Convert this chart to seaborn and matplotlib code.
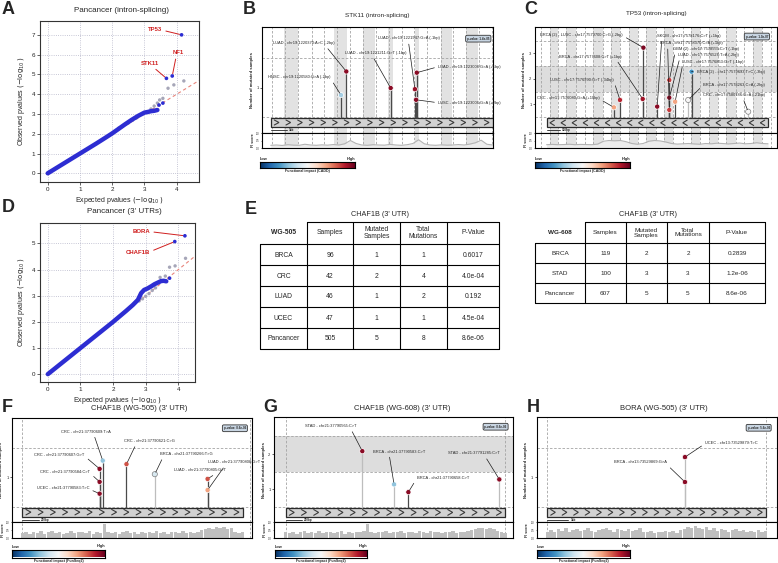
import numpy as np
import pandas as pd
import matplotlib
matplotlib.use("Agg")
import matplotlib.pyplot as plt
import seaborn as sns
from matplotlib.patches import Rectangle
from matplotlib.lines import Line2D

sns.set_theme(style="white")
plt.rcParams["font.family"] = ["Liberation Sans", "DejaVu Sans"]

# ======================= DATA =======================
# A: QQ plot, Pancancer (intron-splicing)
a_band_exp = [0.0, 0.3, 0.6, 0.9, 1.2, 1.5, 1.8, 2.0, 2.2, 2.4, 2.6, 2.8, 3.0, 3.1, 3.2, 3.3, 3.4]
a_band_obs = [0.0, 0.3, 0.6, 0.9, 1.2, 1.5, 1.81, 2.02, 2.25, 2.48, 2.7, 2.9, 3.07, 3.1, 3.14, 3.16, 3.2]
a_null_exp = [2.2, 2.35, 2.5, 2.62, 2.75, 3.2, 3.3, 3.4, 3.47, 3.57, 3.73, 3.91, 4.22]
a_null_obs = [2.28, 2.42, 2.55, 2.68, 2.8, 3.25, 3.4, 3.55, 3.71, 3.79, 4.3, 4.47, 4.67]
a_top_exp = [3.45, 3.57, 3.68, 3.86, 4.15]
a_top_obs = [3.45, 3.55, 4.8, 4.92, 7.0]
a_top_genes = ["", "", "STK11", "NF1", "TP53"]

# D: QQ plot, Pancancer (3' UTRs)
d_band_exp = [0.0, 0.4, 0.8, 1.2, 1.6, 2.0, 2.4, 2.6, 2.76, 2.86, 2.95, 3.06, 3.17, 3.27, 3.37, 3.47, 3.55, 3.63]
d_band_obs = [0.0, 0.4, 0.8, 1.2, 1.6, 2.0, 2.42, 2.64, 2.84, 3.1, 3.22, 3.28, 3.36, 3.44, 3.5, 3.56, 3.57, 3.55]
d_null_exp = [2.8, 2.9, 3.0, 3.1, 3.2, 3.3, 3.44, 3.6, 3.73, 3.9, 4.22]
d_null_obs = [2.8, 2.88, 2.98, 3.08, 3.2, 3.3, 3.7, 3.75, 4.09, 4.14, 4.43]
d_top_exp = [3.73, 3.89, 4.2]
d_top_obs = [3.67, 5.07, 5.29]
d_top_genes = ["", "CHAF1B", "BORA"]

# B: STK11 (intron-splicing)
b_bounds = [4.5, 10, 15.7, 21.5, 27, 32.6, 38.1, 43.8, 49.3, 54.8, 60.5, 66, 71.6, 77.4, 82.8, 88.3, 94, 99.6]
b_exons = [(9.7, 15.7), (31.3, 36.7), (43.9, 48.9), (54.7, 56.8), (66.2, 68), (77.4, 82.4), (88.3, 93.6)]
b_pos = [34.2, 36.5, 55.7, 66.2, 67.0, 66.7]
b_n = [0.88, 1.28, 1.0, 0.98, 1.26, 0.80]
b_impact = [0.33, 0.95, 0.95, 0.93, 0.95, 0.95]
b_labels = ["HNSC - chr19:1220580:G>A (-2bp)", "LUAD - chr19:1220370:A>C (-2bp)",
            "LUAD - chr19:1221211:G>T (-1bp)", "LUAD - chr19:1221947:G>A (-1bp)",
            "LUAD - chr19:1223008:G>A (+1bp)", "LUSC - chr19:1223006:G>A (+2bp)"]
b_pvalue = "p-value: 1.4e-05"
b_fi = [0.18, 0.2, 0.17, 0.22, 0.19, 0.18, 0.25, 0.2, 0.18, 0.21, 0.19, 0.23, 0.2, 0.28, 0.5, 0.3, 0.2, 0.18,
        0.22, 0.2, 0.19, 0.24, 0.2, 0.18, 0.22, 0.3, 0.55, 0.28, 0.2, 0.18, 0.21, 0.19, 0.2, 0.23, 0.2, 0.26,
        0.35, 0.52, 0.25, 0.2]

# C: TP53 (intron-splicing)
c_bounds = [2.5, 6, 9.5, 13, 17, 20.5, 24, 28, 31.5, 35, 39, 42.5, 46, 50, 53.5, 57, 61, 64.5, 68, 72,
            75.5, 79, 83, 86.5, 90, 94, 97.5]
c_exons = [(6, 9.5), (13, 17), (24, 28), (31.5, 35), (39, 42.5), (46, 50), (53.5, 57), (64.5, 68),
           (72, 75.5), (79, 83), (90, 94)]
c_pos = [32.6, 35.1, 44.5, 44.8, 50.5, 55.5, 55.5, 55.5, 57.9, 63.3, 64.7, 88.1]
c_n = [0.88, 1.17, 1.21, 3.22, 0.91, 1.95, 1.26, 0.78, 1.1, 1.17, 2.28, 0.71]
c_impact = [0.7, 0.88, 0.92, 0.97, 0.95, 0.85, 0.95, 0.85, 0.7, 0.5, 0.2, 0.5]
c_labels = ["CRC - chr17:7576080:G>A (+10bp)", "LUSC - chr17:7576990:G>T (-34bp)",
            "BRCA - chr17:7577608:C>T (+1bp)", "BRCA (2) - LUSC - chr17:7579700:C>G (-2bp)",
            "SKCM - chr17:7578176:C>T (+1bp)", "GBM (2) - chr17:7578555:C>T (-1bp)",
            "LUAD - chr17:7576526:T>A (-2bp)", "BRCA - chr17:7578370:C>A (+1bp)",
            "LUSC - chr17:7576853:G>T (-1bp)", "BRCA - chr17:7578263:C>A (-2bp)",
            "BRCA (2) - chr17:7579693:T>C (-3bp)", "CRC - chr17:7580786:G>A (-21bp)"]
c_pvalue = "p-value: 1.0e-07"
c_fi = [0.22, 0.24, 0.22, 0.23, 0.25, 0.22, 0.24, 0.23, 0.22, 0.26, 0.45, 0.5, 0.48, 0.5, 0.42, 0.3, 0.25,
        0.3, 0.45, 0.5, 0.47, 0.4, 0.3, 0.26, 0.28, 0.3, 0.27, 0.25, 0.3, 0.28, 0.32, 0.3, 0.27, 0.3, 0.33,
        0.28, 0.3, 0.35, 0.3, 0.28]

# E: tables
t1_group = "WG-505"
t1_cancer = ["BRCA", "CRC", "LUAD", "UCEC", "Pancancer"]
t1_samples = [96, 42, 46, 47, 505]
t1_mut_samples = [1, 2, 1, 1, 5]
t1_total_mut = [1, 4, 2, 1, 8]
t1_pvalue = ["0.6017", "4.0e-04", "0.192", "4.5e-04", "8.6e-06"]
t2_group = "WG-608"
t2_cancer = ["BRCA", "STAD", "Pancancer"]
t2_samples = [119, 100, 607]
t2_mut_samples = [2, 3, 5]
t2_total_mut = [2, 3, 5]
t2_pvalue = ["0.2839", "1.2e-06", "8.6e-06"]
table_header = ["Samples", "Mutated\nSamples", "Total\nMutations", "P-Value"]

# F: CHAF1B (WG-505) (3' UTR)
f_pos = [37.8, 36.5, 36.5, 36.5, 47.7, 59.5, 81.5, 81.5]
f_n = [1.28, 1.14, 0.92, 0.72, 1.22, 1.05, 0.97, 0.78]
f_impact = [0.3, 0.95, 0.95, 0.95, 0.82, 0.42, 0.82, 0.7]
f_labels = ["CRC - chr21:37790609:T>A", "CRC - chr21:37790607:G>T", "CRC - chr21:37790584:C>T",
            "UCEC - chr21:37790583:T>C", "CRC - chr21:37790621:C>G", "BRCA - chr21:37790266:T>G",
            "LUAD - chr21:37790805:G>T", "LUAD - chr21:37790808:G>T"]
f_pvalue = "p-value: 8.6e-06"
f_fi = [0.3, 0.35, 0.25, 0.4, 0.3, 0.45, 0.28, 0.35, 0.42, 0.3, 0.38, 0.25, 0.33, 0.45, 0.3, 0.4, 0.35, 0.3,
        0.42, 0.28, 0.36, 0.32, 0.9, 0.4, 0.3, 0.38, 0.27, 0.35, 0.44, 0.3, 0.36, 0.28, 0.4, 0.33, 0.38, 0.3,
        0.45, 0.32, 0.36, 0.28, 0.4, 0.35, 0.3, 0.42, 0.33, 0.38, 0.3, 0.36, 0.5, 0.55, 0.62, 0.58, 0.7, 0.6,
        0.66, 0.55, 0.6, 0.4, 0.3, 0.35]

# G: CHAF1B (WG-608) (3' UTR)
g_pos = [37.0, 50.3, 56.3, 94.4]
g_n = [2.08, 1.14, 0.92, 1.28]
g_impact = [0.95, 0.3, 0.95, 0.95]
g_labels = ["STAD - chr21:37790565:C>T", "BRCA - chr21:37790583:C>T",
            "BRCA - chr21:37790658:C>T", "STAD - chr21:37791285:C>T"]
g_pvalue = "p-value: 8.6e-06"
g_fi = [0.35, 0.3, 0.4, 0.28, 0.36, 0.42, 0.3, 0.38, 0.33, 0.45, 0.3, 0.36, 0.4, 0.3, 0.35, 0.42, 0.28, 0.38,
        0.33, 0.4, 0.36, 0.45, 0.85, 0.4, 0.3, 0.38, 0.35, 0.42, 0.3, 0.4, 0.36, 0.45, 0.32, 0.4, 0.35, 0.3,
        0.42, 0.38, 0.33, 0.45, 0.36, 0.4, 0.3, 0.38, 0.35, 0.42, 0.3, 0.36, 0.4, 0.45, 0.5, 0.55, 0.6, 0.65,
        0.58, 0.62, 0.55, 0.45, 0.38, 0.3]

# H: BORA (WG-505) (3' UTR)
h_pos = [61.7, 61.7]
h_n = [1.34, 0.92]
h_impact = [0.95, 0.95]
h_labels = ["UCEC - chr13:73529879:T>C", "BRCA - chr13:73529869:G>A"]
h_pvalue = "p-value: 5.6e-06"
h_fi = [0.4, 0.5, 0.35, 0.55, 0.45, 0.6, 0.4, 0.5, 0.55, 0.42, 0.5, 0.6, 0.45, 0.38, 0.5, 0.55, 0.62, 0.48,
        0.4, 0.55, 0.5, 0.42, 0.58, 0.45, 0.5, 0.6, 0.4, 0.35, 0.45, 0.3, 0.4, 0.38, 0.45, 0.35, 0.42, 0.3,
        0.5, 0.55, 0.7, 0.6, 0.75, 0.65, 0.55, 0.68, 0.5, 0.6, 0.45, 0.55, 0.5, 0.4, 0.48, 0.55, 0.42, 0.5,
        0.38, 0.45, 0.4, 0.5, 0.35, 0.45]

# ======================= DRAWING =======================
W, H = 778, 563
fig = plt.figure(figsize=(7.78, 5.63), dpi=100)


def rect(l, t, r, b):
    return [l / W, 1 - b / H, (r - l) / W, (b - t) / H]


def ftext(x, y, s, **kw):
    fig.text(x / W, 1 - y / H, s, **kw)


def fline(x0, y0, x1, y1, **kw):
    fig.add_artist(Line2D([x0 / W, x1 / W], [1 - y0 / H, 1 - y1 / H], **kw))


BLUE = "#2d2dd2"
RED_TXT = "#d01f1f"


def qq_panel(box, xlim, ylim, yticks, bx, by, nx, ny, tx, ty, names, lab_xy, lab_rel):
    ax = fig.add_axes(rect(*box))
    ax.set_xlim(*xlim)
    ax.set_ylim(*ylim)
    ax.set_xticks([0, 1, 2, 3, 4])
    ax.set_yticks(yticks)
    ax.grid(True, ls=":", color="#b4b4c8", lw=0.6)
    ax.tick_params(labelsize=4.5, length=2, width=0.5, pad=1.5, colors="#222222", bottom=True, left=True)
    for s in ax.spines.values():
        s.set_color("#333333")
        s.set_linewidth(0.8)
    ax.plot([0, xlim[1]], [0, xlim[1]], ls=(0, (3, 2.5)), color="#e8857c", lw=0.8, zorder=1)
    sns.scatterplot(x=nx, y=ny, ax=ax, color="#a6a6b8", s=6, edgecolor="none", zorder=2)
    sns.lineplot(x=bx, y=by, ax=ax, color=BLUE, lw=3.2, zorder=3, solid_capstyle="round")
    sns.scatterplot(x=tx, y=ty, ax=ax, color=BLUE, s=7, edgecolor="none", zorder=4)
    k = 0
    for name, x, y in zip(names, tx, ty):
        if not name:
            continue
        ax.annotate(name, xy=(x, y), xytext=lab_xy[k], fontsize=4.3, color=RED_TXT, fontweight="bold",
                    ha="center", va="center",
                    arrowprops=dict(arrowstyle="-", color=RED_TXT, lw=0.7, shrinkA=0.5, shrinkB=1.5,
                                    relpos=lab_rel[k]))
        k += 1
    ax.set_xlabel(r"Expected pvalues $(-\log_{10})$", fontsize=5, labelpad=2)
    ax.set_ylabel(r"Observed pvalues $(-\log_{10})$", fontsize=5, labelpad=3)
    return ax


qq_panel((40, 21, 199, 182), (-0.24, 4.69), (-0.44, 7.7), [0, 1, 2, 3, 4, 5, 6, 7],
         a_band_exp, a_band_obs, a_null_exp, a_null_obs, a_top_exp, a_top_obs, a_top_genes,
         [(3.16, 5.57), (4.06, 6.1), (3.32, 7.29)], [(0.6, 0), (0.3, 0), (1, 0.3)])
qq_panel((40, 223, 195, 382), (-0.24, 4.51), (-0.3, 5.78), [0, 1, 2, 3, 4, 5],
         d_band_exp, d_band_obs, d_null_exp, d_null_obs, d_top_exp, d_top_obs, d_top_genes,
         [(2.75, 4.66), (2.86, 5.45)], [(1, 0.6), (1, 0.5)])

ftext(122, 10, "Pancancer (intron-splicing)", ha="center", va="center", fontsize=5.8)
ftext(124, 211, "Pancancer (3' UTRs)", ha="center", va="center", fontsize=5.8)


def colorbar(l, t, r, b, caption):
    cax = fig.add_axes(rect(l, t, r, b))
    cax.imshow(np.linspace(0, 1, 256)[None, :], aspect="auto", cmap="RdBu_r", extent=[0, 1, 0, 1])
    cax.set_xticks([])
    cax.set_yticks([])
    for s in cax.spines.values():
        s.set_color("black")
        s.set_linewidth(0.8)
    ftext(l, t - 1.5, "Low", ha="left", va="bottom", fontsize=2.8, fontweight="bold")
    ftext(r, t - 1.5, "High", ha="right", va="bottom", fontsize=2.8, fontweight="bold")
    ftext((l + r) / 2, b + 1.2, caption, ha="center", va="top", fontsize=2.6, fontweight="bold")


def lollipop(main_box, fi_box, ylim, yticks, hdash, hband, bounds, shaded, track, n_arrows, strand,
             scale, scale_label, pos, nsamp, impact, stem_cols, labels, lab_xy, lab_rel, lab_ha,
             pvalue, pbox_xy, fi, fi_mode):
    ax = fig.add_axes(rect(*main_box))
    ax.set_xlim(0, 100)
    ax.set_ylim(*ylim)
    for a, b in shaded:
        ax.axvspan(a, b, color="#e2e2e2", lw=0, zorder=0)
    if hband:
        ax.axhspan(hband[0], hband[1], color="#dddddd", lw=0, zorder=0)
    for v in bounds:
        ax.axvline(v, color="#a3a3a3", lw=0.6, ls=(0, (3, 2)), zorder=0.5)
    for h in hdash:
        ax.axhline(h, color="#a3a3a3", lw=0.6, ls=(0, (3, 2)), zorder=0.5)
    x0, x1, y0, y1 = track
    ax.add_patch(Rectangle((x0, y0), x1 - x0, y1 - y0, fc="#d2d2d2", ec="#2a2a2a", lw=0.9, zorder=2))
    # strand chevrons drawn as one polyline (NaN separated)
    step = (x1 - x0) / n_arrows
    ymid = (y0 + y1) / 2
    dy = (y1 - y0) * 0.3
    dx = step * 0.2 * strand
    cx, cy = [], []
    for k in range(n_arrows):
        xc = x0 + step * (k + 0.5)
        cx += [xc - dx, xc + dx, xc - dx, np.nan]
        cy += [ymid + dy, ymid, ymid - dy, np.nan]
    ax.plot(cx, cy, color="#3a3a3a", lw=0.8, zorder=4, solid_joinstyle="miter")
    sx0, sx1, sy = scale
    ax.plot([sx0, sx1], [sy, sy], color="#222222", lw=0.6, zorder=3)
    ax.text(sx1 + 0.8, sy, scale_label, fontsize=2.2, va="center", ha="left", fontweight="bold")
    for x, n, c in zip(pos, nsamp, stem_cols):
        ax.plot([x, x], [y1, n], color=c, lw=0.9, zorder=3, solid_capstyle="butt")
    edges = ["#808080" if 0.4 <= v <= 0.6 else "white" for v in impact]
    df = pd.DataFrame({"pos": pos, "n": nsamp, "impact": impact})
    sns.scatterplot(data=df, x="pos", y="n", hue="impact", palette="RdBu_r", hue_norm=(0, 1), ax=ax,
                    s=14, edgecolor=edges, linewidth=0.5, legend=False, zorder=5)
    for lab, x, n, xy, rp, ha in zip(labels, pos, nsamp, lab_xy, lab_rel, lab_ha):
        ax.annotate(lab, xy=(x, n), xytext=xy, fontsize=2.9, ha=ha, va="center", zorder=6,
                    annotation_clip=False,
                    arrowprops=dict(arrowstyle="-", color="#1a1a1a", lw=0.5, shrinkA=0.3, shrinkB=1.6,
                                    relpos=rp))
    ax.text(pbox_xy[0], pbox_xy[1], pvalue, transform=ax.transAxes, ha="right", va="center",
            fontsize=2.2, fontweight="bold", zorder=6,
            bbox=dict(boxstyle="round,pad=0.45", fc="#c8d5e2", ec="#333333", lw=0.6))
    ax.set_xticks([])
    ax.set_yticks(yticks)
    ax.set_yticklabels([str(v) for v in yticks])
    ax.tick_params(axis="y", labelsize=3, length=1.5, width=0.5, pad=1, left=True)
    ax.set_ylabel("Number of mutated samples", fontsize=3.1, fontweight="bold", labelpad=2)
    ax.set_xlabel("")
    for s in ax.spines.values():
        s.set_color("black")
        s.set_linewidth(0.8)

    fx = fig.add_axes(rect(*fi_box))
    fx.set_xlim(0, 100)
    fx.set_ylim(0, 1)
    for a, b in shaded:
        fx.axvspan(a, b, color="#e2e2e2", lw=0, zorder=0)
    for v in bounds:
        fx.axvline(v, color="#a3a3a3", lw=0.6, ls=(0, (3, 2)), zorder=0.5)
    xs = np.linspace(x0, x1, len(fi))
    if fi_mode == "line":
        fx.fill_between(xs, 0, fi, color="#ececec", lw=0, zorder=1)
        sns.lineplot(x=xs, y=fi, ax=fx, color="#b3b3b3", lw=0.8, zorder=2)
    else:
        fx.bar(xs, fi, width=(x1 - x0) / len(fi) * 0.95, color="#bfbfbf", lw=0, zorder=1)
    fx.set_xticks([])
    fx.set_yticks([0, 0.5, 1])
    fx.set_yticklabels(["0.0", "0.5", "1.0"])
    fx.tick_params(axis="y", labelsize=1.8, length=1, width=0.4, pad=0.5, left=True)
    fx.set_ylabel("FI score", fontsize=2.6, fontweight="bold", labelpad=1)
    for s in fx.spines.values():
        s.set_color("black")
        s.set_linewidth(0.8)
    return ax


DARK = "#4a4a4a"
LIGHT = "#bdbdbd"

# B
lollipop((262, 27, 493, 133), (262, 133, 493, 148), (0.237, 2.034), [1], [0.5, 1.5], None,
         b_bounds, b_exons, (3.8, 99.8, 0.344, 0.486), 19, 1, (3.8, 11.0, 0.29), "1kb",
         b_pos, b_n, b_impact, [DARK] * 6, b_labels,
         [(2.6, 1.18), (4.6, 1.76), (35.9, 1.59), (50.2, 1.84), (76.2, 1.36), (76.2, 0.75)],
         [(1, 0.2), (0.85, 0), (0.44, 0), (0.49, 0), (0, 0.5), (0, 0.5)], ["left"] * 6,
         b_pvalue, (0.985, 0.89), b_fi, "line")
ftext(377, 15, "STK11 (intron-splicing)", ha="center", va="center", fontsize=4.6)
colorbar(260, 162, 355, 168, "Functional impact (CADD)")

# C
lollipop((535, 27, 777, 133), (535, 133, 777, 148), (-0.125, 4.03), [1, 2, 3], [0.5, 1.5, 2.5, 3.5],
         (1.5, 2.5), c_bounds, c_exons, (4.8, 96.3, 0.10, 0.45), 20, -1, (4.8, 10.3, -0.01), "100bp",
         c_pos, c_n, c_impact, [DARK] * 9 + [LIGHT, DARK, LIGHT], c_labels,
         [(0.7, 1.24), (6.2, 1.95), (10.0, 2.87), (2.1, 3.72), (50.3, 3.68), (57.2, 3.16), (59.2, 2.93),
          (51.7, 3.39), (60.6, 2.67), (69.6, 1.76), (66.8, 2.28), (69.6, 1.36)],
         [(1, 0.3), (1, 0.3), (0.9, 0), (1, 0.3), (0.08, 0), (0.03, 0), (0.03, 0), (0.12, 0), (0.02, 0),
          (0, 0.5), (0, 0.5), (0.63, 0)], ["left"] * 12,
         c_pvalue, (0.963, 0.91), c_fi, "line")
ftext(656, 14, "TP53 (intron-splicing)", ha="center", va="center", fontsize=4.6)
colorbar(535, 162, 630, 168, "Functional impact (CADD)")

# F
lollipop((12, 417.5, 252, 522), (12, 522, 252, 538), (0.24, 2.01), [1], [0.5, 1.5], None,
         [4.3, 99.3], [], (4.3, 96.1, 0.33, 0.483), 18, 1, (4.3, 11.4, 0.275), "200bp",
         f_pos, f_n, f_impact, [DARK, DARK, DARK, DARK, DARK, LIGHT, DARK, DARK], f_labels,
         [(20.5, 1.77), (9.3, 1.37), (11.7, 1.08), (10.3, 0.81), (46.6, 1.61), (61.6, 1.39),
          (67.5, 1.12), (81.5, 1.25)],
         [(0.65, 0), (1, 0.3), (1, 0.3), (1, 0.3), (0.25, 0), (0.07, 0), (0.85, 0), (0.35, 0)],
         ["left"] * 8, f_pvalue, (0.975, 0.897), f_fi, "bar")
ftext(139, 409, "CHAF1B (WG-505) (3' UTR)", ha="center", va="center", fontsize=5.5)
colorbar(12, 550, 105, 557.5, "Functional impact (FunSeq2)")

# G
lollipop((274, 417.3, 512.7, 522), (274, 522, 512.7, 538), (0.074, 3.04), [1, 2], [0.5, 1.5, 2.5],
         (1.5, 2.5), [4.9, 96.8], [], (4.9, 96.8, 0.21, 0.48), 18, 1, (4.9, 11.6, 0.13), "200bp",
         g_pos, g_n, g_impact, [LIGHT, LIGHT, DARK, LIGHT], g_labels,
         [(13.0, 2.79), (41.6, 2.07), (59.8, 1.33), (73.0, 2.02)],
         [(0.88, 0), (0.3, 0), (0, 0.3), (0.7, 0)], ["left"] * 4,
         g_pvalue, (0.975, 0.91), g_fi, "bar")
ftext(402, 409, "CHAF1B (WG-608) (3' UTR)", ha="center", va="center", fontsize=5.5)
colorbar(275, 550, 367, 557.5, "Functional impact (FunSeq2)")

# H
lollipop((536.7, 417.3, 777, 522), (536.7, 522, 777, 538), (0.247, 2.01), [1], [0.5, 1.5], None,
         [4.4, 95.3], [], (4.4, 95.3, 0.33, 0.49), 19, 1, (4.4, 13.2, 0.28), "1kb",
         h_pos, h_n, h_impact, [LIGHT, LIGHT], h_labels,
         [(70.1, 1.58), (54.1, 1.25)], [(0, 0.3), (1, 0)], ["left", "right"],
         h_pvalue, (0.97, 0.9), h_fi, "bar")
ftext(664, 409, "BORA (WG-505) (3' UTR)", ha="center", va="center", fontsize=5.5)
colorbar(537, 550, 630, 557.5, "Functional impact (FunSeq2)")


# E: tables
def table(xe, ye, group, cancers, samples, mut_s, tot_m, pvals, fs):
    lw = 0.8
    for i, y in enumerate(ye):
        fline(xe[1] if i == 0 else xe[0], y, xe[-1], y, color="black", lw=lw)
    for j, x in enumerate(xe):
        fline(x, ye[1] if j == 0 else ye[0], x, ye[-1], color="black", lw=lw)
    cx = [(xe[j] + xe[j + 1]) / 2 for j in range(len(xe) - 1)]
    cy = [(ye[i] + ye[i + 1]) / 2 for i in range(len(ye) - 1)]
    ftext(cx[0], cy[0], group, ha="center", va="center", fontsize=fs, fontweight="bold")
    for j, hname in enumerate(table_header):
        ftext(cx[j + 1], cy[0], hname, ha="center", va="center", fontsize=fs, linespacing=1.0)
    for i, row in enumerate(zip(cancers, samples, mut_s, tot_m, pvals)):
        for j, v in enumerate(row):
            ftext(cx[j], cy[i + 1] + 0.5, str(v), ha="center", va="center", fontsize=fs)


table([260, 307, 353, 400, 447, 499], [222, 244, 265, 286, 307, 328, 349], t1_group, t1_cancer,
      t1_samples, t1_mut_samples, t1_total_mut, t1_pvalue, 4.9)
table([535, 585, 626, 667, 709, 765], [222, 243, 263, 283, 303], t2_group, t2_cancer,
      t2_samples, t2_mut_samples, t2_total_mut, t2_pvalue, 4.6)
ftext(380, 214, "CHAF1B (3' UTR)", ha="center", va="center", fontsize=5.2)
ftext(648, 214, "CHAF1B (3' UTR)", ha="center", va="center", fontsize=5.2)

# panel letters
for letter, x, y in [("A", 2, 9), ("B", 243, 9), ("C", 524, 10), ("D", 2, 208), ("E", 245, 209),
                     ("F", 2, 407), ("G", 263, 407), ("H", 527, 407)]:
    ftext(x, y, letter, ha="left", va="center", fontsize=13, fontweight="bold")

fig.savefig("out.png", dpi=100)
